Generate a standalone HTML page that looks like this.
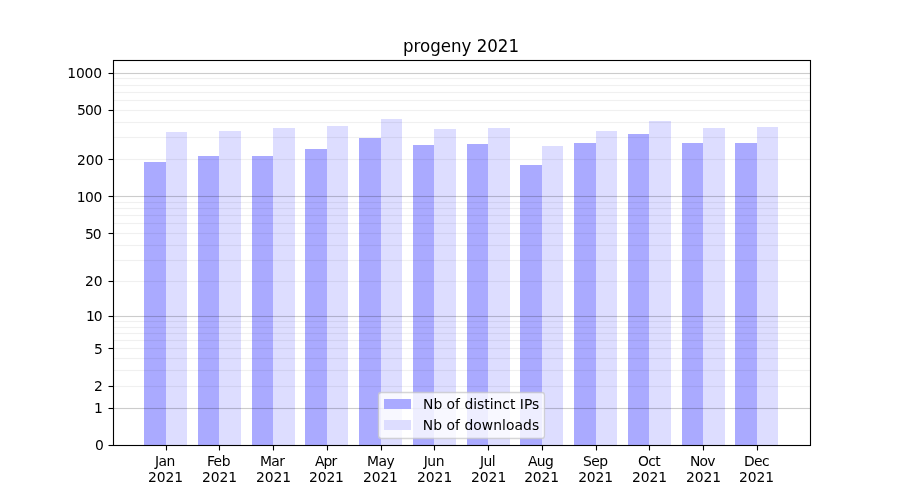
<!DOCTYPE html>
<html lang="en"><head><meta charset="utf-8"><title>progeny 2021</title>
<style>
html,body{margin:0;padding:0;background:#fff;}
body{width:900px;height:500px;overflow:hidden;}
svg{display:block;}
text{font-family:"DejaVu Sans","Liberation Sans",sans-serif;fill:#000;}
.t10{font-size:13.889px;}
.t12{font-size:16.667px;}
.bar{shape-rendering:crispEdges;}

</style></head><body>
<svg width="900" height="500" viewBox="0 0 900 500">
<rect x="0" y="0" width="900" height="500" fill="#ffffff"/>
<g class="bar" fill="#aaaaff">
<rect x="144" y="162" width="22" height="283"/>
<rect x="198" y="156" width="21" height="289"/>
<rect x="252" y="156" width="21" height="289"/>
<rect x="305" y="149" width="22" height="296"/>
<rect x="359" y="138" width="22" height="307"/>
<rect x="413" y="145" width="21" height="300"/>
<rect x="467" y="144" width="21" height="301"/>
<rect x="520" y="165" width="22" height="280"/>
<rect x="574" y="143" width="22" height="302"/>
<rect x="628" y="134" width="21" height="311"/>
<rect x="682" y="143" width="21" height="302"/>
<rect x="735" y="143" width="22" height="302"/>
</g>
<g class="bar" fill="#ddddff">
<rect x="166" y="132" width="21" height="313"/>
<rect x="219" y="131" width="22" height="314"/>
<rect x="273" y="128" width="22" height="317"/>
<rect x="327" y="126" width="21" height="319"/>
<rect x="381" y="119" width="21" height="326"/>
<rect x="434" y="129" width="22" height="316"/>
<rect x="488" y="128" width="22" height="317"/>
<rect x="542" y="146" width="21" height="299"/>
<rect x="596" y="131" width="21" height="314"/>
<rect x="649" y="121" width="22" height="324"/>
<rect x="703" y="128" width="22" height="317"/>
<rect x="757" y="127" width="21" height="318"/>
</g>
<g class="bar" fill="#000">
<rect x="113" y="408" width="697" height="1" fill-opacity="0.2"/><rect x="113" y="407" width="697" height="1" fill-opacity="0.011"/><rect x="113" y="409" width="697" height="1" fill-opacity="0.011"/>
<rect x="113" y="316" width="697" height="1" fill-opacity="0.2"/><rect x="113" y="315" width="697" height="1" fill-opacity="0.011"/><rect x="113" y="317" width="697" height="1" fill-opacity="0.011"/>
<rect x="113" y="196" width="697" height="1" fill-opacity="0.2"/><rect x="113" y="195" width="697" height="1" fill-opacity="0.011"/><rect x="113" y="197" width="697" height="1" fill-opacity="0.011"/>
<rect x="113" y="73" width="697" height="1" fill-opacity="0.2"/><rect x="113" y="72" width="697" height="1" fill-opacity="0.011"/><rect x="113" y="74" width="697" height="1" fill-opacity="0.011"/>
<rect x="113" y="386" width="697" height="1" fill-opacity="0.06"/><rect x="113" y="385" width="697" height="1" fill-opacity="0.0035"/><rect x="113" y="387" width="697" height="1" fill-opacity="0.0035"/>
<rect x="113" y="370" width="697" height="1" fill-opacity="0.06"/><rect x="113" y="369" width="697" height="1" fill-opacity="0.0035"/><rect x="113" y="371" width="697" height="1" fill-opacity="0.0035"/>
<rect x="113" y="358" width="697" height="1" fill-opacity="0.06"/><rect x="113" y="357" width="697" height="1" fill-opacity="0.0035"/><rect x="113" y="359" width="697" height="1" fill-opacity="0.0035"/>
<rect x="113" y="348" width="697" height="1" fill-opacity="0.06"/><rect x="113" y="347" width="697" height="1" fill-opacity="0.0035"/><rect x="113" y="349" width="697" height="1" fill-opacity="0.0035"/>
<rect x="113" y="340" width="697" height="1" fill-opacity="0.06"/><rect x="113" y="339" width="697" height="1" fill-opacity="0.0035"/><rect x="113" y="341" width="697" height="1" fill-opacity="0.0035"/>
<rect x="113" y="333" width="697" height="1" fill-opacity="0.06"/><rect x="113" y="332" width="697" height="1" fill-opacity="0.0035"/><rect x="113" y="334" width="697" height="1" fill-opacity="0.0035"/>
<rect x="113" y="327" width="697" height="1" fill-opacity="0.06"/><rect x="113" y="326" width="697" height="1" fill-opacity="0.0035"/><rect x="113" y="328" width="697" height="1" fill-opacity="0.0035"/>
<rect x="113" y="321" width="697" height="1" fill-opacity="0.06"/><rect x="113" y="320" width="697" height="1" fill-opacity="0.0035"/><rect x="113" y="322" width="697" height="1" fill-opacity="0.0035"/>
<rect x="113" y="281" width="697" height="1" fill-opacity="0.06"/><rect x="113" y="280" width="697" height="1" fill-opacity="0.0035"/><rect x="113" y="282" width="697" height="1" fill-opacity="0.0035"/>
<rect x="113" y="260" width="697" height="1" fill-opacity="0.06"/><rect x="113" y="259" width="697" height="1" fill-opacity="0.0035"/><rect x="113" y="261" width="697" height="1" fill-opacity="0.0035"/>
<rect x="113" y="245" width="697" height="1" fill-opacity="0.06"/><rect x="113" y="244" width="697" height="1" fill-opacity="0.0035"/><rect x="113" y="246" width="697" height="1" fill-opacity="0.0035"/>
<rect x="113" y="233" width="697" height="1" fill-opacity="0.06"/><rect x="113" y="232" width="697" height="1" fill-opacity="0.0035"/><rect x="113" y="234" width="697" height="1" fill-opacity="0.0035"/>
<rect x="113" y="223" width="697" height="1" fill-opacity="0.06"/><rect x="113" y="222" width="697" height="1" fill-opacity="0.0035"/><rect x="113" y="224" width="697" height="1" fill-opacity="0.0035"/>
<rect x="113" y="215" width="697" height="1" fill-opacity="0.06"/><rect x="113" y="214" width="697" height="1" fill-opacity="0.0035"/><rect x="113" y="216" width="697" height="1" fill-opacity="0.0035"/>
<rect x="113" y="208" width="697" height="1" fill-opacity="0.06"/><rect x="113" y="207" width="697" height="1" fill-opacity="0.0035"/><rect x="113" y="209" width="697" height="1" fill-opacity="0.0035"/>
<rect x="113" y="202" width="697" height="1" fill-opacity="0.06"/><rect x="113" y="201" width="697" height="1" fill-opacity="0.0035"/><rect x="113" y="203" width="697" height="1" fill-opacity="0.0035"/>
<rect x="113" y="159" width="697" height="1" fill-opacity="0.06"/><rect x="113" y="158" width="697" height="1" fill-opacity="0.0035"/><rect x="113" y="160" width="697" height="1" fill-opacity="0.0035"/>
<rect x="113" y="137" width="697" height="1" fill-opacity="0.06"/><rect x="113" y="136" width="697" height="1" fill-opacity="0.0035"/><rect x="113" y="138" width="697" height="1" fill-opacity="0.0035"/>
<rect x="113" y="122" width="697" height="1" fill-opacity="0.06"/><rect x="113" y="121" width="697" height="1" fill-opacity="0.0035"/><rect x="113" y="123" width="697" height="1" fill-opacity="0.0035"/>
<rect x="113" y="110" width="697" height="1" fill-opacity="0.06"/><rect x="113" y="109" width="697" height="1" fill-opacity="0.0035"/><rect x="113" y="111" width="697" height="1" fill-opacity="0.0035"/>
<rect x="113" y="100" width="697" height="1" fill-opacity="0.06"/><rect x="113" y="99" width="697" height="1" fill-opacity="0.0035"/><rect x="113" y="101" width="697" height="1" fill-opacity="0.0035"/>
<rect x="113" y="92" width="697" height="1" fill-opacity="0.06"/><rect x="113" y="91" width="697" height="1" fill-opacity="0.0035"/><rect x="113" y="93" width="697" height="1" fill-opacity="0.0035"/>
<rect x="113" y="85" width="697" height="1" fill-opacity="0.06"/><rect x="113" y="84" width="697" height="1" fill-opacity="0.0035"/><rect x="113" y="86" width="697" height="1" fill-opacity="0.0035"/>
<rect x="113" y="78" width="697" height="1" fill-opacity="0.06"/><rect x="113" y="77" width="697" height="1" fill-opacity="0.0035"/><rect x="113" y="79" width="697" height="1" fill-opacity="0.0035"/>
</g>
<g stroke="#000" stroke-width="1.111">
<line x1="166.5" y1="445.5" x2="166.5" y2="450.50"/>
<line x1="219.5" y1="445.5" x2="219.5" y2="450.50"/>
<line x1="273.5" y1="445.5" x2="273.5" y2="450.50"/>
<line x1="327.5" y1="445.5" x2="327.5" y2="450.50"/>
<line x1="381.5" y1="445.5" x2="381.5" y2="450.50"/>
<line x1="434.5" y1="445.5" x2="434.5" y2="450.50"/>
<line x1="488.5" y1="445.5" x2="488.5" y2="450.50"/>
<line x1="542.5" y1="445.5" x2="542.5" y2="450.50"/>
<line x1="596.5" y1="445.5" x2="596.5" y2="450.50"/>
<line x1="649.5" y1="445.5" x2="649.5" y2="450.50"/>
<line x1="703.5" y1="445.5" x2="703.5" y2="450.50"/>
<line x1="757.5" y1="445.5" x2="757.5" y2="450.50"/>
<line x1="113.5" y1="445.5" x2="108.50" y2="445.5"/>
<line x1="113.5" y1="408.5" x2="108.50" y2="408.5"/>
<line x1="113.5" y1="386.5" x2="108.50" y2="386.5"/>
<line x1="113.5" y1="348.5" x2="108.50" y2="348.5"/>
<line x1="113.5" y1="316.5" x2="108.50" y2="316.5"/>
<line x1="113.5" y1="281.5" x2="108.50" y2="281.5"/>
<line x1="113.5" y1="233.5" x2="108.50" y2="233.5"/>
<line x1="113.5" y1="196.5" x2="108.50" y2="196.5"/>
<line x1="113.5" y1="159.5" x2="108.50" y2="159.5"/>
<line x1="113.5" y1="110.5" x2="108.50" y2="110.5"/>
<line x1="113.5" y1="73.5" x2="108.50" y2="73.5"/>
<rect x="113.5" y="60.5" width="697" height="385" fill="none" stroke-linejoin="miter"/>
</g>
<rect x="378.5" y="392.5" width="166.0" height="46.0" rx="2.78" ry="2.78" fill="#fff" stroke="#ccc" stroke-width="1.3" opacity="0.8"/>
<rect class="bar" x="384" y="399" width="27" height="10" fill="#aaaaff"/>
<rect class="bar" x="384" y="420" width="27" height="10" fill="#ddddff"/>
<text class="t10" x="164.95" y="465.78" text-anchor="middle" style="letter-spacing:-0.50px">Jan</text>
<text class="t10" x="165.45" y="481.83" text-anchor="middle" style="letter-spacing:-0.10px">2021</text>
<text class="t10" x="218.44" y="465.78" text-anchor="middle" style="letter-spacing:-0.50px">Feb</text>
<text class="t10" x="219.44" y="481.83" text-anchor="middle" style="letter-spacing:-0.10px">2021</text>
<text class="t10" x="272.17" y="465.78" text-anchor="middle" style="letter-spacing:-0.60px">Mar</text>
<text class="t10" x="273.42" y="481.83" text-anchor="middle" style="letter-spacing:-0.10px">2021</text>
<text class="t10" x="325.66" y="465.78" text-anchor="middle" style="letter-spacing:-0.90px">Apr</text>
<text class="t10" x="326.41" y="481.83" text-anchor="middle" style="letter-spacing:-0.10px">2021</text>
<text class="t10" x="380.65" y="465.78" text-anchor="middle" style="letter-spacing:-0.50px">May</text>
<text class="t10" x="380.40" y="481.83" text-anchor="middle" style="letter-spacing:-0.10px">2021</text>
<text class="t10" x="433.88" y="465.78" text-anchor="middle" style="letter-spacing:-0.50px">Jun</text>
<text class="t10" x="434.63" y="481.83" text-anchor="middle">2021</text>
<text class="t10" x="487.62" y="465.78" text-anchor="middle" style="letter-spacing:-0.50px">Jul</text>
<text class="t10" x="488.62" y="481.83" text-anchor="middle">2021</text>
<text class="t10" x="540.60" y="465.78" text-anchor="middle" style="letter-spacing:-0.60px">Aug</text>
<text class="t10" x="541.60" y="481.83" text-anchor="middle" style="letter-spacing:-0.10px">2021</text>
<text class="t10" x="595.34" y="465.78" text-anchor="middle" style="letter-spacing:-0.50px">Sep</text>
<text class="t10" x="595.59" y="481.83" text-anchor="middle" style="letter-spacing:-0.10px">2021</text>
<text class="t10" x="649.08" y="465.78" text-anchor="middle" style="letter-spacing:-0.60px">Oct</text>
<text class="t10" x="649.58" y="481.83" text-anchor="middle" style="letter-spacing:-0.10px">2021</text>
<text class="t10" x="702.31" y="465.78" text-anchor="middle" style="letter-spacing:-0.90px">Nov</text>
<text class="t10" x="703.56" y="481.83" text-anchor="middle" style="letter-spacing:-0.10px">2021</text>
<text class="t10" x="756.55" y="465.78" text-anchor="middle" style="letter-spacing:-0.60px">Dec</text>
<text class="t10" x="756.55" y="481.83" text-anchor="middle" style="letter-spacing:-0.10px">2021</text>
<text class="t10" x="103.03" y="449.78" text-anchor="end" style="letter-spacing:-0.90px">0</text>
<text class="t10" x="102.03" y="412.92" text-anchor="end" style="letter-spacing:-0.90px">1</text>
<text class="t10" x="102.03" y="390.57" text-anchor="end" style="letter-spacing:-0.90px">2</text>
<text class="t10" x="102.03" y="353.71" text-anchor="end" style="letter-spacing:-0.90px">5</text>
<text class="t10" x="101.78" y="320.54" text-anchor="end" style="letter-spacing:-0.90px">10</text>
<text class="t10" x="102.28" y="285.69" text-anchor="end" style="letter-spacing:-0.20px">20</text>
<text class="t10" x="100.78" y="238.87" text-anchor="end" style="letter-spacing:-0.90px">50</text>
<text class="t10" x="101.78" y="201.54" text-anchor="end" style="letter-spacing:-0.50px">100</text>
<text class="t10" x="103.28" y="164.95" text-anchor="end" style="letter-spacing:-0.10px">200</text>
<text class="t10" x="101.28" y="114.73" text-anchor="end" style="letter-spacing:-0.70px">500</text>
<text class="t10" x="101.78" y="77.92" text-anchor="end" style="letter-spacing:-0.20px">1000</text>
<text class="t12" x="461.00" y="51.67" text-anchor="middle" transform="translate(461.00 51.67) scale(1.0 1.06) translate(-461.00 -51.67)">progeny 2021</text>
<text class="t10" x="423.00" y="408.50" text-anchor="start">Nb of distinct IPs</text>
<text class="t10" x="422.75" y="429.50" text-anchor="start" style="letter-spacing:0.05px">Nb of downloads</text>
</svg></body></html>
